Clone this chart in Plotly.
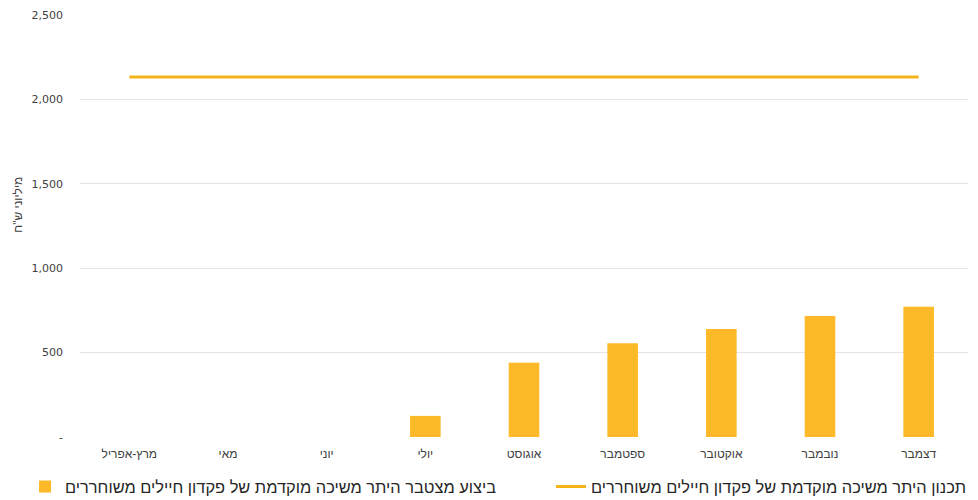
import plotly.graph_objects as go

categories = ["מרץ-אפריל", "מאי", "יוני", "יולי", "אוגוסט", "ספטמבר", "אוקטובר", "נובמבר", "דצמבר"]
actual_values = [0, 0, 0, 125, 440, 555, 640, 717, 772]
plan_values = [2133] * len(categories)
tick_vals = [0, 500, 1000, 1500, 2000, 2500]
tick_text = ["-", "500", "1,000", "1,500", "2,000", "2,500"]

bar_name = "ביצוע מצטבר היתר משיכה מוקדמת של פקדון חיילים משוחררים"
line_name = "תכנון היתר משיכה מוקדמת של פקדון חיילים משוחררים"

fig = go.Figure()
fig.add_trace(go.Bar(x=categories, y=actual_values, name=bar_name, legend="legend",
                     marker=dict(color="#FDB927", line=dict(width=0))))
fig.add_trace(go.Scatter(x=categories, y=plan_values, name=line_name, mode="lines",
                         legend="legend2", line=dict(color="#F4B41A", width=3)))

legend_font = dict(family="Liberation Sans, Arial, sans-serif", size=16.4, color="#262626")

fig.update_layout(
    width=970, height=492,
    margin=dict(l=72, r=10, t=7, b=63, autoexpand=False),
    plot_bgcolor="white", paper_bgcolor="white",
    bargap=0.69,
    font=dict(family="Liberation Sans, Arial, sans-serif", color="#404040"),
    xaxis=dict(showgrid=False, showline=False, ticks="", tickfont=dict(size=12, color="#404040"),
               range=[-0.5, 8.5], ticklabelstandoff=8),
    yaxis=dict(range=[0, 2500], tickvals=tick_vals, ticktext=tick_text,
               showgrid=True, gridcolor="#E3E3E3", gridwidth=1, zeroline=False,
               tickfont=dict(family="DejaVu Sans, sans-serif", size=11, color="#404040"),
               ticklabelstandoff=16),
    legend=dict(orientation="h", x=-0.0619, xanchor="left", y=-0.118, yanchor="middle",
                font=legend_font, bgcolor="rgba(0,0,0,0)"),
    legend2=dict(orientation="h", x=0.5304, xanchor="left", y=-0.118, yanchor="middle",
                 font=legend_font, bgcolor="rgba(0,0,0,0)"),
    showlegend=True,
    annotations=[dict(text="מיליוני ש\"ח", xref="paper", yref="paper", x=-0.07, y=0.55,
                      showarrow=False, textangle=-90, font=dict(size=12, color="#404040"),
                      xanchor="center", yanchor="middle")],
)

fig.write_html("out.html")
